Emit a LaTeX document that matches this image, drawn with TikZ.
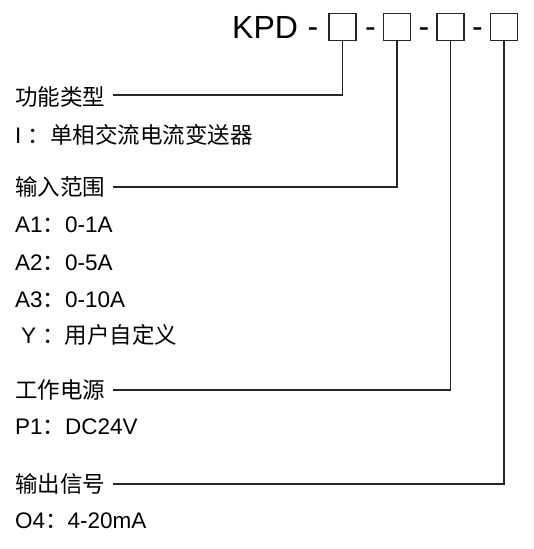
\documentclass[tikz,border=0pt]{standalone}
\usepackage{fontspec}
\setmainfont{Liberation Sans}
\newfontfamily\cjk{Noto Sans CJK SC}
\begin{document}
\begin{tikzpicture}[x=1pt,y=-1pt,
  box/.style={draw=black!85, line width=1.3pt, minimum size=27pt, inner sep=0},
  lbl/.style={anchor=base west, inner sep=0, font=\fontsize{22.5}{26}\selectfont},
  dsh/.style={anchor=base, inner sep=0, font=\fontsize{32}{38}\selectfont},
  conn/.style={line width=1.3pt, draw=black!85}]
\useasboundingbox (0,0) rectangle (534,549);
\node[anchor=base west, inner sep=0, font=\fontsize{32}{38}\selectfont] (kpd) at (232,38) {KPD};
\node[box] (b1) at (342.5,27) {};
\node[box] (b2) at (397,27) {};
\node[box] (b3) at (450.5,27) {};
\node[box] (b4) at (504,27) {};
\node[dsh] (d1) at (313,37.5) {-};
\node[dsh] (d2) at (370.5,37.5) {-};
\node[dsh] (d3) at (424,37.5) {-};
\node[dsh] (d4) at (477.5,37.5) {-};
% labels
\node[lbl] (l1) at (15,105.5) {\cjk 功能类型};
\node[lbl] (t1) at (15,143.5) {I {\cjk ：单相交流电流变送器}};
\node[lbl] (l2) at (15,195.5) {\cjk 输入范围};
\node[lbl] (a1) at (15,232) {A1{\cjk ：}0-1A};
\node[lbl] (a2) at (15,270) {A2{\cjk ：}0-5A};
\node[lbl] (a3) at (15,307) {A3{\cjk ：}0-10A};
\node[lbl] (y) at (21,343) {Y {\cjk ：用户自定义}};
\node[lbl] (l3) at (15,398.5) {\cjk 工作电源};
\node[lbl] (p1) at (15,434) {P1{\cjk ：}DC24V};
\node[lbl] (l4) at (15,492.5) {\cjk 输出信号};
\node[lbl] (o4) at (15,528) {O4{\cjk ：}4-20mA};
% connectors
\coordinate (s1) at (113,95);
\coordinate (s2) at (113,187);
\coordinate (s3) at (113,390);
\coordinate (s4) at (113,484);
\draw[conn] (s1) -| (b1.south);
\draw[conn] (s2) -| (b2.south);
\draw[conn] (s3) -| (b3.south);
\draw[conn] (s4) -| (b4.south);
\end{tikzpicture}
\end{document}
